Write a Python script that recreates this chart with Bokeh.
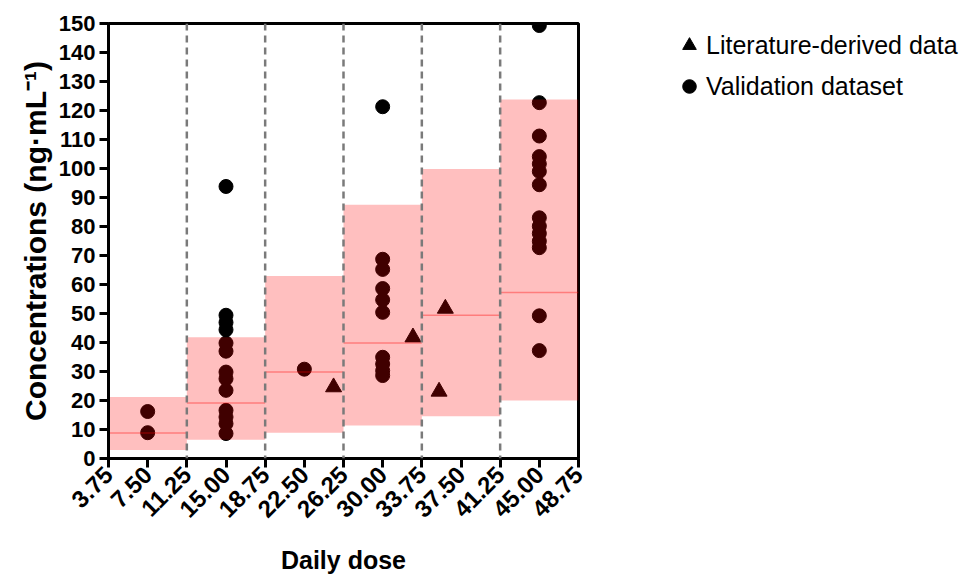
import math
from bokeh.plotting import figure
from bokeh.layouts import row, Spacer
from bokeh.models import Legend, FixedTicker, PrintfTickFormatter, Range1d, Span, ColumnDataSource
from bokeh.embed import file_html
from bokeh.resources import INLINE

# ---- data ----
x_ticks = [3.75, 7.50, 11.25, 15.00, 18.75, 22.50, 26.25, 30.00, 33.75, 37.50, 41.25, 45.00, 48.75]
y_ticks = [0, 10, 20, 30, 40, 50, 60, 70, 80, 90, 100, 110, 120, 130, 140, 150]

bin_left = [3.75, 11.25, 18.75, 26.25, 33.75, 41.25]
bin_right = [11.25, 18.75, 26.25, 33.75, 41.25, 48.75]
box_low = [2.9, 6.5, 8.9, 11.4, 14.6, 20.0]
box_high = [21.2, 41.8, 62.9, 87.5, 99.8, 123.8]
box_median = [8.8, 19.1, 29.8, 39.8, 49.4, 57.2]
dividers = [11.25, 18.75, 26.25, 33.75, 41.25]

val_dose = [7.5, 7.5,
            15, 15, 15, 15, 15, 15, 15, 15, 15, 15, 15, 15, 15,
            22.5,
            30, 30, 30, 30, 30, 30, 30, 30, 30, 30,
            45, 45, 45, 45, 45, 45, 45, 45, 45, 45, 45, 45, 45, 45]
val_conc = [16.2, 8.9,
            93.8, 49.4, 46.9, 44.4, 39.8, 37.0, 29.8, 27.5, 23.5, 16.6, 14.3, 12.0, 8.6,
            30.8,
            121.3, 68.7, 65.2, 58.6, 54.7, 50.4, 34.9, 32.6, 30.3, 28.6,
            149.3, 122.7, 111.2, 104.1, 101.6, 99.0, 94.4, 83.0, 80.1, 77.6, 74.9, 72.7, 49.2, 37.2]

lit_dose = [25.3, 32.9, 35.4, 36.0]
lit_conc = [24.6, 41.8, 23.1, 51.7]

legend_labels = ["Literature-derived data", "Validation dataset"]

FONT = "Liberation Sans"

p = figure(width=600, height=576, output_backend="svg", toolbar_location=None,
           x_range=Range1d(3.75, 48.75), y_range=Range1d(0, 150),
           min_border_left=108, min_border_right=22, min_border_top=23, min_border_bottom=116)

# points (drawn first, then tinted by the boxes above them)
val_r = p.scatter(val_dose, val_conc, marker="circle", size=14, fill_color="black", line_color="black")
lit_r = p.scatter(lit_dose, lit_conc, marker="triangle", size=16, fill_color="black", line_color="black")

box_src = ColumnDataSource(dict(left=bin_left, right=bin_right, bottom=box_low, top=box_high, med=box_median))
p.quad(left="left", right="right", bottom="bottom", top="top", source=box_src,
       fill_color="red", fill_alpha=0.25, line_color=None)
p.segment(x0="left", x1="right", y0="med", y1="med", source=box_src,
          line_color="red", line_alpha=0.35, line_width=1.5)

for d in dividers:
    p.add_layout(Span(location=d, dimension="height", line_color="#7a7a7a",
                      line_width=2.5, line_dash="7 5"))

# axes
p.xgrid.visible = False
p.ygrid.visible = False
p.outline_line_color = "black"
p.outline_line_width = 3
p.outline_line_alpha = 1

p.xaxis.ticker = FixedTicker(ticks=x_ticks)
p.xaxis.formatter = PrintfTickFormatter(format="%.2f")
p.yaxis.ticker = FixedTicker(ticks=y_ticks)

for ax in (p.xaxis[0], p.yaxis[0]):
    ax.axis_line_width = 3
    ax.axis_line_color = "black"
    ax.major_tick_line_width = 3
    ax.major_tick_line_color = "black"
    ax.major_tick_out = 9
    ax.major_tick_in = 0
    ax.minor_tick_line_color = None
    ax.major_label_text_font = FONT
    ax.major_label_text_font_style = "bold"
    ax.major_label_text_color = "black"
    ax.axis_label_text_font = FONT
    ax.axis_label_text_font_style = "bold"
    ax.axis_label_text_color = "black"

p.yaxis.major_label_text_font_size = "22px"
p.xaxis.major_label_text_font_size = "24px"
p.xaxis.major_label_orientation = math.pi / 4
p.yaxis.axis_label = "Concentrations (ng·mL⁻¹)"
p.xaxis.axis_label = "Daily dose"
p.yaxis.axis_label_text_font_size = "30px"
p.xaxis.axis_label_text_font_size = "25px"
p.yaxis.axis_label_standoff = 4
p.xaxis.axis_label_standoff = 18
p.yaxis.major_label_standoff = 4
p.xaxis.major_label_standoff = 3

# legend in a separate panel to the right (same data, outside its visible range)
lg = figure(width=299, height=576, output_backend="svg", toolbar_location=None,
            x_axis_type=None, y_axis_type=None, x_range=Range1d(1000, 1001), y_range=Range1d(1000, 1001),
            min_border=0, outline_line_color=None)
lg.xgrid.visible = False
lg.ygrid.visible = False
lit_l = lg.scatter(lit_dose, lit_conc, marker="triangle", size=16, fill_color="black", line_color="black")
val_l = lg.scatter(val_dose, val_conc, marker="circle", size=14, fill_color="black", line_color="black")

legend = Legend(items=[(legend_labels[0], [lit_l]), (legend_labels[1], [val_l])],
                location="top_left", padding=0, margin=5, spacing=7,
                glyph_width=34, glyph_height=34, label_height=34, label_standoff=0,
                label_text_font=FONT, label_text_font_size="25px", label_text_color="black",
                border_line_color=None, background_fill_alpha=0)
lg.add_layout(legend, "center")

layout = row(p, Spacer(width=67, height=576), lg, spacing=0)
open("out.html", "w").write(file_html(layout, INLINE))
